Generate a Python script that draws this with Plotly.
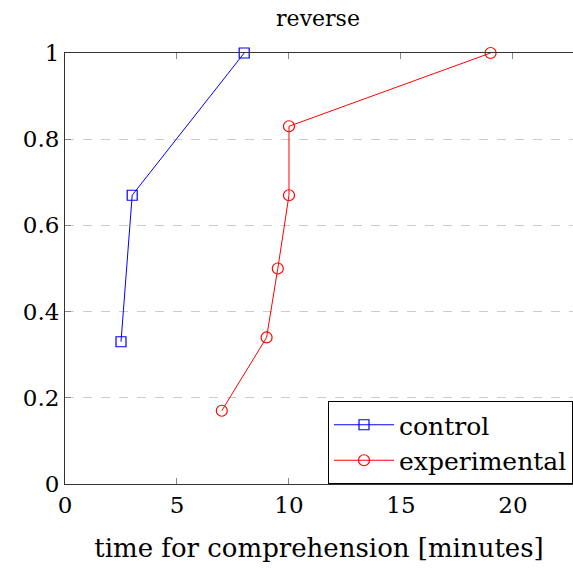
import plotly.graph_objects as go

control_x = [2.5, 3, 8]
control_y = [0.33, 0.67, 1.0]
exp_x = [7, 9, 9.5, 10, 10, 19]
exp_y = [0.17, 0.34, 0.5, 0.67, 0.83, 1.0]
x_ticks = [0, 5, 10, 15, 20]
y_ticks = [0, 0.2, 0.4, 0.6, 0.8, 1]
y_labels = ["0", "0.2", "0.4", "0.6", "0.8", "1"]

FONT = "'DejaVu Serif', serif"

fig = go.Figure()
fig.add_trace(go.Scatter(
    x=control_x, y=control_y, mode="lines+markers", name="control",
    line=dict(color="blue", width=1), cliponaxis=False,
    marker=dict(symbol="square-open", size=10, color="blue", line=dict(width=1.2)),
))
fig.add_trace(go.Scatter(
    x=exp_x, y=exp_y, mode="lines+markers", name="experimental",
    line=dict(color="red", width=1), cliponaxis=False,
    marker=dict(symbol="circle-open", size=11, color="red", line=dict(width=1.2)),
))

fig.update_layout(
    width=573, height=568,
    margin=dict(l=65, r=0, t=53, b=84),
    paper_bgcolor="white", plot_bgcolor="white",
    font=dict(family=FONT, size=22, color="black"),
    title=dict(text="reverse", x=0.555, xanchor="center", y=0.968, yanchor="middle",
               font=dict(family=FONT, size=22)),
    showlegend=True,
    legend=dict(
        x=1, xanchor="right", y=0, yanchor="bottom",
        bordercolor="black", borderwidth=1, bgcolor="white",
        font=dict(family=FONT, size=25),
        tracegroupgap=0, itemwidth=60,
    ),
    xaxis=dict(
        range=[0, 22.68], tickvals=x_ticks, ticks="inside", ticklen=6,
        tickcolor="#888", showline=True, linecolor="#333", linewidth=1,
        mirror="ticks", showgrid=False, zeroline=False,
        tickfont=dict(family=FONT, size=23),
        title=dict(text="time for comprehension [minutes]", font=dict(family=FONT, size=26), standoff=22),
    ),
    yaxis=dict(
        range=[0, 1], tickvals=y_ticks, ticktext=y_labels, ticks="inside", ticklen=6,
        tickcolor="#888", showline=True, linecolor="#333", linewidth=1,
        showgrid=True, gridcolor="#cccccc", griddash="dash", gridwidth=1,
        zeroline=False, tickfont=dict(family=FONT, size=23),
    ),
)

fig.write_html("out.html")
